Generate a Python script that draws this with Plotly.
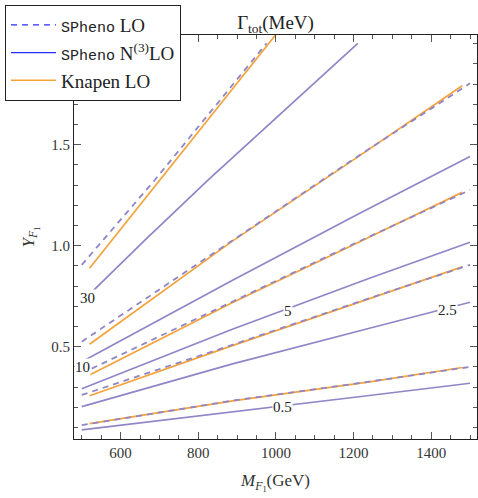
import plotly.graph_objects as go

# Contour lines of the total width Gamma_tot (MeV) in the (M_F1, Y_F1) plane.
contour_levels = ["0.5", "2.5", "5", "10", "30"]

# SPheno N(3)LO (solid)
n3lo_M = [
    [500, 900, 1230, 1500],
    [500, 886, 1241, 1500],
    [500, 886, 1241, 1500],
    [500, 886, 1216, 1500],
    [500, 529, 664, 761, 825, 1211],
]
n3lo_Y = [
    [0.088, 0.182, 0.256, 0.319],
    [0.203, 0.414, 0.591, 0.720],
    [0.292, 0.585, 0.839, 1.017],
    [0.426, 0.826, 1.160, 1.441],
    [0.720, 0.776, 1.030, 1.210, 1.325, 2.002],
]

# SPheno LO (dashed)
lo_M = [
    [500, 889, 1241, 1500],
    [500, 886, 1241, 1500],
    [500, 886, 1216, 1500],
    [500, 886, 1023, 1216, 1500],
    [500, 688, 976],
]
lo_Y = [
    [0.112, 0.233, 0.327, 0.400],
    [0.261, 0.508, 0.740, 0.905],
    [0.368, 0.719, 1.023, 1.276],
    [0.525, 1.024, 1.200, 1.449, 1.804],
    [0.905, 1.325, 2.002],
]

# Knapen LO (orange)
knapen_M = [
    [520, 889, 1241, 1480],
    [520, 886, 1241, 1480],
    [520, 886, 1216, 1480],
    [520, 886, 1216, 1480],
    [520, 701, 999],
]
knapen_Y = [
    [0.119, 0.232, 0.326, 0.397],
    [0.257, 0.504, 0.738, 0.895],
    [0.360, 0.716, 1.020, 1.264],
    [0.512, 1.020, 1.446, 1.792],
    [0.888, 1.325, 2.043],
]

# Inline contour labels (on the N(3)LO curves)
label_text = ["30", "10", "5", "2.5", "0.5"]
label_M = [516, 502, 1030, 1443, 1018]
label_Y = [0.741, 0.398, 0.677, 0.682, 0.2015]

x_ticks = [600, 800, 1000, 1200, 1400]
y_ticks = [0.5, 1.0, 1.5]

PURPLE = "#9085c7"
ORANGE = "#f5a23a"
SERIF = "Liberation Serif"
MONO = "Liberation Mono"

fig = go.Figure()

for M, Y in zip(n3lo_M, n3lo_Y):
    fig.add_trace(go.Scatter(x=M, y=Y, mode="lines", showlegend=False,
                             line=dict(color=PURPLE, width=1.7)))
for M, Y in zip(knapen_M, knapen_Y):
    fig.add_trace(go.Scatter(x=M, y=Y, mode="lines", showlegend=False,
                             line=dict(color=ORANGE, width=1.7)))
for M, Y in zip(lo_M, lo_Y):
    fig.add_trace(go.Scatter(x=M, y=Y, mode="lines", showlegend=False,
                             line=dict(color=PURPLE, width=1.8, dash="6px,5px")))

# legend entries
sph = f"<span style='font-family:{MONO};font-size:15px'>SPheno</span>"
fig.add_trace(go.Scatter(x=[None], y=[None], mode="lines",
                         name=f"{sph} LO",
                         line=dict(color="#2b2bff", width=1.3, dash="6px,5px")))
fig.add_trace(go.Scatter(x=[None], y=[None], mode="lines",
                         name=f"{sph} N<sup>(3)</sup>LO",
                         line=dict(color="#2b2bff", width=1.3)))
fig.add_trace(go.Scatter(x=[None], y=[None], mode="lines",
                         name="Knapen LO",
                         line=dict(color=ORANGE, width=1.3)))

for t, m, y in zip(label_text, label_M, label_Y):
    fig.add_annotation(x=m, y=y, text=t, showarrow=False, bgcolor="white",
                       borderpad=0, font=dict(family=SERIF, size=15, color="#222"))

axis_common = dict(
    showline=True, linecolor="#222", linewidth=1, mirror="allticks",
    ticks="inside", ticklen=7, tickcolor="#555", tickwidth=1,
    showgrid=False, zeroline=False,
    tickfont=dict(family=SERIF, size=15, color="#333"),
)

fig.update_xaxes(range=[480, 1518], tickvals=x_ticks,
                 minor=dict(dtick=50, ticks="inside", ticklen=4, tickcolor="#555"),
                 title=dict(text="<i>M</i><sub><i>F</i><sub>1</sub></sub>(GeV)",
                            font=dict(family=SERIF, size=17, color="#333"), standoff=14),
                 **axis_common)
fig.update_yaxes(range=[0.043, 2.043], tickvals=y_ticks, tickformat=".1f",
                 minor=dict(dtick=0.1, tick0=0, ticks="inside", ticklen=4, tickcolor="#555"),
                 title=dict(text="<i>Y</i><sub><i>F</i><sub>1</sub></sub>",
                            font=dict(family=SERIF, size=17, color="#333"), standoff=12),
                 **axis_common)

fig.update_layout(
    width=478, height=498,
    margin=dict(l=74, r=1, t=35, b=59),
    plot_bgcolor="white", paper_bgcolor="white",
    title=dict(text="Γ<sub>tot</sub>(MeV)", x=275.5 / 478, xanchor="center",
               y=1 - 22 / 498, yanchor="middle",
               font=dict(family=SERIF, size=19, color="#222")),
    legend=dict(x=-69 / 403, y=1 + 30 / 404, xanchor="left", yanchor="top",
                bgcolor="white", bordercolor="#222", borderwidth=1,
                font=dict(family=SERIF, size=19, color="#222"),
                itemwidth=45, tracegroupgap=0),
)

fig.write_html("out.html")
